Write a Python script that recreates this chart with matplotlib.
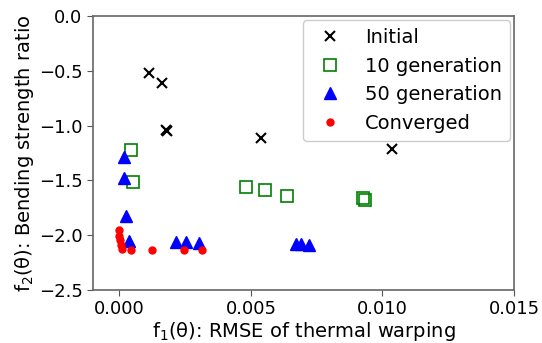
import numpy as np
import matplotlib
matplotlib.use("Agg")
import matplotlib.pyplot as plt

plt.rcParams['font.family'] = ['DejaVu Sans']
plt.rcParams['mathtext.default'] = 'regular'

# data
init_x = [0.001125, 0.00161, 0.00176, 0.00180, 0.00537, 0.01038]
init_y = [-0.523, -0.614, -1.04, -1.05, -1.109, -1.209]

gen10_x = [0.000456, 0.000517, 0.0048, 0.00552, 0.00637, 0.00926, 0.00934]
gen10_y = [-1.223, -1.512, -1.563, -1.588, -1.642, -1.658, -1.682]

gen50_x = [0.000163, 0.00019, 0.00024, 0.000354, 0.00214, 0.00255, 0.00303,
           0.0067, 0.00689, 0.00721]
gen50_y = [-1.284, -1.481, -1.825, -2.053, -2.059, -2.059, -2.074,
           -2.080, -2.083, -2.089]

conv_x = [0.0, 0.0, 0.00004, 0.00008, 0.00011, 0.000456, 0.00125, 0.00246, 0.00316]
conv_y = [-1.953, -2.007, -2.044, -2.089, -2.129, -2.135, -2.135, -2.135, -2.135]

xticks = [0.000, 0.005, 0.010, 0.015]
yticks = [0.0, -0.5, -1.0, -1.5, -2.0, -2.5]

fig = plt.figure(figsize=(5.42, 3.43), dpi=100)
ax = fig.add_axes([0.1716, 0.1545, 0.7768, 0.7985])

ax.plot(init_x, init_y, 'x', color='black', ms=7.5, mew=1.5, label='Initial')
ax.plot(gen10_x, gen10_y, 's', mfc='none', mec='green', ms=8.5, mew=1.2, label='10 generation')
ax.plot(gen50_x, gen50_y, '^', color='blue', ms=9, label='50 generation')
ax.plot(conv_x, conv_y, 'o', color='red', ms=5, label='Converged')

ax.set_xlim(-0.001, 0.015)
ax.set_ylim(-2.5, 0.0)
ax.set_xticks(xticks)
ax.set_xticklabels([f"{v:.3f}" for v in xticks])
ax.set_yticks(yticks)
ax.set_yticklabels(["0.0" if v == 0 else f"\u2212{abs(v):.1f}" for v in yticks])
ax.tick_params(labelsize=13, length=4, color='#555555')

for s in ax.spines.values():
    s.set_color('#666666')
    s.set_linewidth(1.2)

ax.set_xlabel(r"f$_1$(θ): RMSE of thermal warping", fontsize=14, labelpad=1)
ax.set_ylabel(r"f$_2$(θ): Bending strength ratio", fontsize=14, labelpad=2)

ax.legend(loc='upper right', fontsize=14, labelspacing=0.5, borderpad=0.4,
          borderaxespad=0.2, bbox_to_anchor=(1, 1), framealpha=1)

fig.savefig("out.png", dpi=100)
